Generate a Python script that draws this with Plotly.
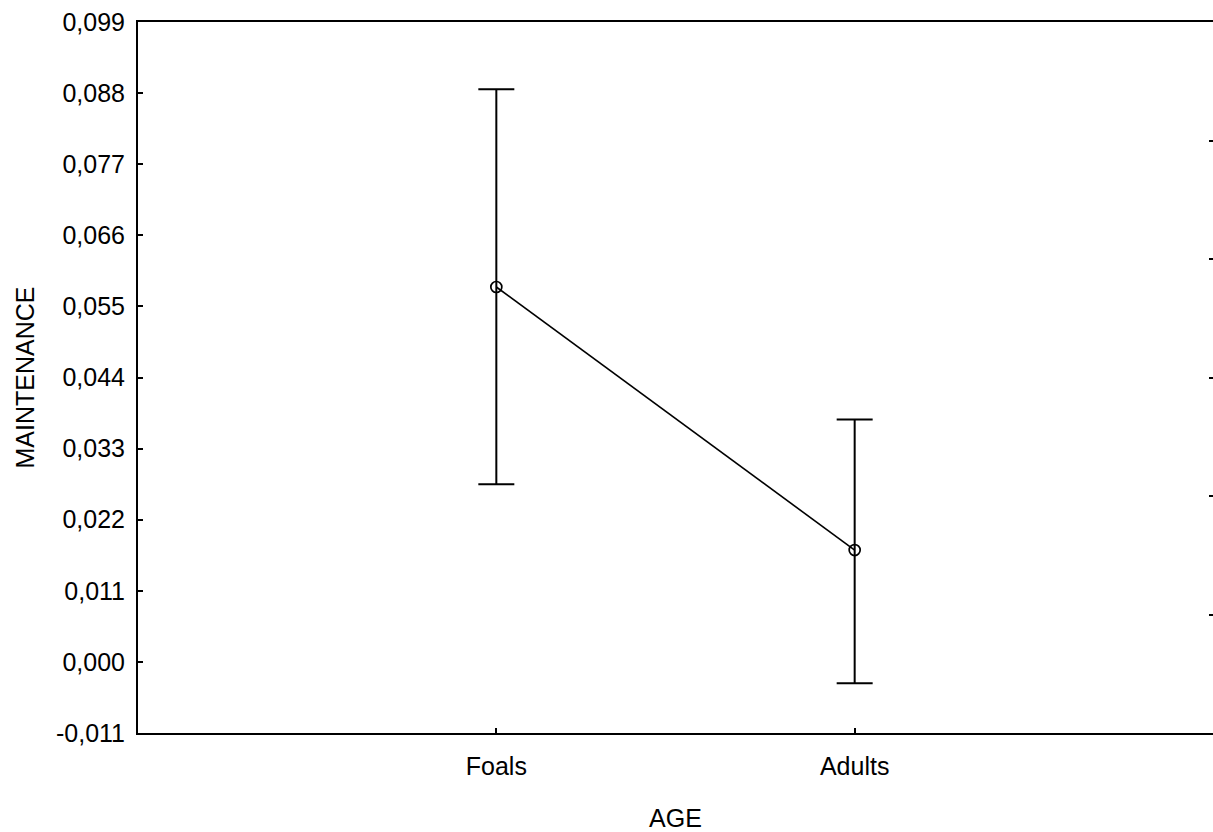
import plotly.graph_objects as go

categories = ["Foals", "Adults"]
means = [0.0580, 0.0173]
upper = [0.0886, 0.0375]
lower = [0.0275, -0.0033]

y_ticks = [-0.011, 0.000, 0.011, 0.022, 0.033, 0.044, 0.055, 0.066, 0.077, 0.088, 0.099]
y_ticklabels = [f"{v:.3f}".replace(".", ",") for v in y_ticks]
right_ticks = [0, 1, 2, 3, 4, 5, 6]

err_plus = [u - m for u, m in zip(upper, means)]
err_minus = [m - l for m, l in zip(means, lower)]

FONT = "Liberation Sans, Arial, sans-serif"

fig = go.Figure()
fig.add_trace(go.Scatter(
    x=categories, y=means, mode="lines+markers",
    line=dict(color="black", width=1.6),
    marker=dict(symbol="circle-open", size=11, color="black", line=dict(width=1.7)),
    error_y=dict(type="data", symmetric=False, array=err_plus, arrayminus=err_minus,
                 color="black", thickness=2, width=18),
    showlegend=False, hoverinfo="skip",
))
fig.add_trace(go.Scatter(
    x=categories, y=[0, 0], yaxis="y2", mode="markers",
    marker=dict(opacity=0), showlegend=False, hoverinfo="skip",
))

fig.update_layout(
    width=1213, height=832,
    margin=dict(l=138, r=0, t=22, b=99),
    paper_bgcolor="white", plot_bgcolor="white",
    font=dict(family=FONT, color="black", size=25),
    showlegend=False,
    xaxis=dict(
        type="category", range=[-1, 2],
        showline=True, linewidth=2, linecolor="black", mirror=True,
        ticks="inside", ticklen=5, tickwidth=2, tickcolor="black",
        showgrid=False, zeroline=False,
        tickfont=dict(size=25),
        ticklabelstandoff=10,
        title=dict(text="AGE", font=dict(size=25), standoff=32),
    ),
    yaxis=dict(
        range=[-0.011, 0.099],
        tickvals=y_ticks, ticktext=y_ticklabels,
        showline=True, linewidth=2, linecolor="black",
        ticks="inside", ticklen=5, tickwidth=2, tickcolor="black",
        showgrid=False, zeroline=False,
        tickfont=dict(size=25),
        ticklabelstandoff=6,
        title=dict(text="MAINTENANCE", font=dict(size=25), standoff=14),
    ),
    yaxis2=dict(
        overlaying="y", side="right", range=[0, 6],
        tickvals=right_ticks, showticklabels=False,
        ticks="inside", ticklen=4, tickwidth=2, tickcolor="black",
        showline=False, showgrid=False, zeroline=False,
    ),
)

fig.write_html("out.html")
